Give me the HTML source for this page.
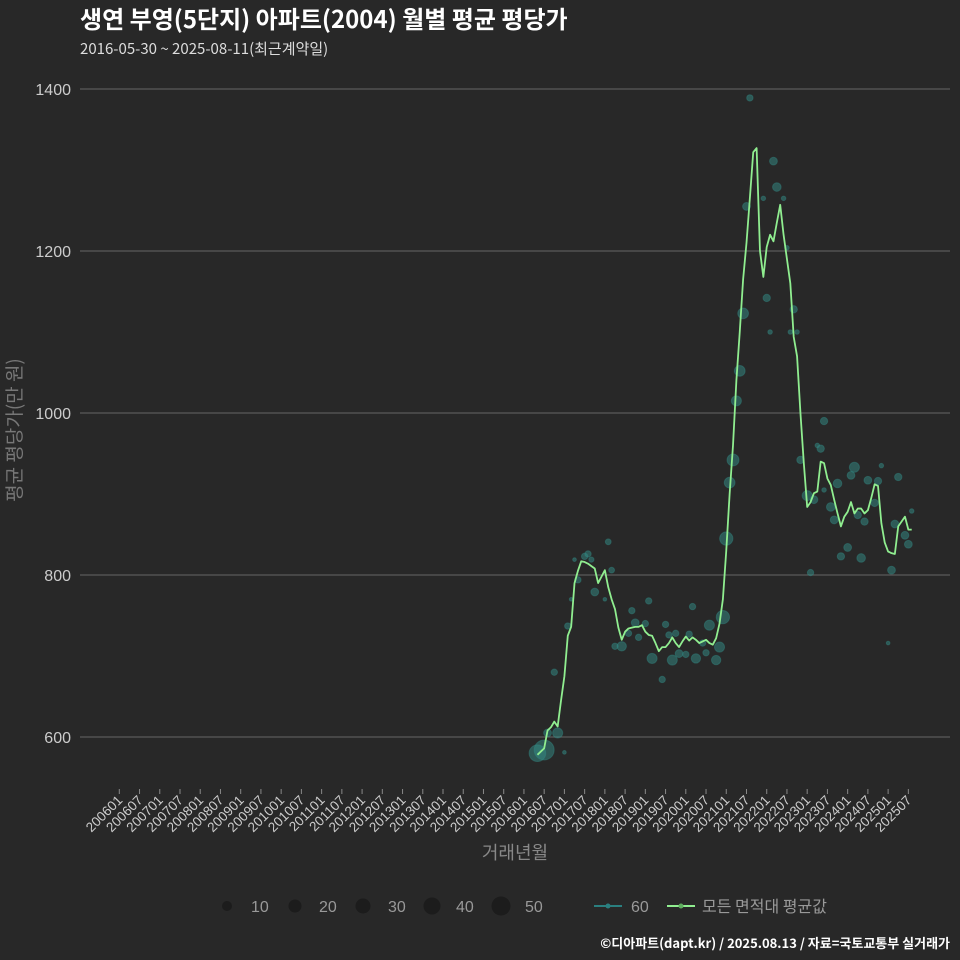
<!DOCTYPE html>
<html><head><meta charset="utf-8"><style>
html,body{margin:0;padding:0;background:#282828;}
svg{display:block;font-family:"Liberation Sans","Noto Sans CJK KR",sans-serif;}
.kr{font-family:"Noto Sans CJK KR","Liberation Sans",sans-serif;}
</style></head><body>
<svg id="chart" width="960" height="960" viewBox="0 0 960 960" xmlns="http://www.w3.org/2000/svg">
<rect width="960" height="960" fill="#282828"/>
<text class="kr" x="80" y="28" fill="#ffffff" font-size="24" font-weight="bold">생연 부영(5단지) 아파트(2004) 월별 평균 평당가</text>
<text class="kr" x="80" y="54" fill="#dddddd" font-size="15">2016-05-30 ~ 2025-08-11(최근계약일)</text>
<g id="grid"></g>
<g id="yaxis"></g>
<g id="xaxis"></g>
<g id="bubbles"></g>
<g id="line"></g>
<text class="kr" transform="translate(21,430) rotate(-90)" text-anchor="middle" fill="#777" font-size="19">평균 평당가(만 원)</text>
<text class="kr" x="515" y="859" text-anchor="middle" fill="#888" font-size="18">거래년월</text>
<g>
<circle cx="227" cy="906" r="5" fill="#1c1c1c"/>
<text x="251" y="912" fill="#999" font-size="16">10</text>
<circle cx="295" cy="906" r="6.5" fill="#1c1c1c"/>
<text x="319" y="912" fill="#999" font-size="16">20</text>
<circle cx="363" cy="906" r="7.5" fill="#1c1c1c"/>
<text x="388" y="912" fill="#999" font-size="16">30</text>
<circle cx="432" cy="906" r="8.5" fill="#1c1c1c"/>
<text x="456" y="912" fill="#999" font-size="16">40</text>
<circle cx="501" cy="906" r="9.5" fill="#1c1c1c"/>
<text x="525" y="912" fill="#999" font-size="16">50</text>
<line x1="594" y1="906" x2="622" y2="906" stroke="#2a7f7f" stroke-width="2"/>
<circle cx="608" cy="906" r="2.5" fill="#2a7f7f"/>
<text x="631" y="912" fill="#999" font-size="16">60</text>
<line x1="667" y1="906" x2="695" y2="906" stroke="#90ee90" stroke-width="2"/>
<circle cx="681" cy="906" r="2.5" fill="#5fae5f"/>
<text class="kr" x="702" y="912" fill="#999" font-size="16">모든 면적대 평균값</text>
</g>
<text class="kr" x="950" y="948" text-anchor="end" fill="#ffffff" font-size="13" font-weight="bold">©디아파트(dapt.kr) / 2025.08.13 / 자료=국토교통부 실거래가</text>
</svg>
<script>
// average line: monthly values starting 2016-05
const lineStart = 124; // months since 2006-01
const lineValues = [578,582,586,608,612,619,613,645,675,725,736,790,805,817,816,814,811,808,790,798,806,785,770,758,735,720,730,734,735,736,736,738,730,726,725,716,706,711,711,716,723,716,711,718,724,719,723,720,716,718,720,716,714,722,740,770,830,900,960,1040,1100,1165,1210,1265,1322,1327,1200,1168,1205,1220,1212,1235,1257,1220,1190,1160,1094,1070,1000,938,884,890,901,903,940,938,919,911,893,876,860,872,878,890,876,882,882,876,880,895,912,910,864,840,829,827,826,860,866,872,856,856];
// bubbles: month offset from 2016-05, value, count
const bubbleMonths = [0,2,6,3,8,5,9,10,12,11,14,15,16,21,22,17,20,23,25,27,28,29,30,32,33,34,37,38,39,40,41,42,44,45,46,47,49,50,51,53,54,55,56,57,58,59,60,61,62,63,67,68,69,70,71,73,74,76,75,77,78,80,82,81,85,83,84,85,87,88,89,90,92,93,94,95,96,97,98,100,101,102,105,106,107,109,110,111,104];
const bubbleValues = [580,584,605,605,581,680,737,770,794,819,823,826,819,841,806,779,770,712,712,728,756,741,723,740,768,697,671,739,726,695,728,703,702,727,761,697,716,704,738,695,711,748,845,914,942,1015,1052,1123,1255,1389,1265,1142,1100,1311,1279,1265,1204,1128,1100,1100,942,898,893,803,990,960,956,905,884,868,913,823,834,923,933,874,821,866,917,889,916,935,806,863,921,849,838,879,716];
const bubbleCounts = [41,59,15,9,2,6,6,2,6,2,6,6,4,5,5,9,2,6,13,6,6,9,6,6,6,15,6,6,6,15,6,9,6,6,6,13,6,6,15,13,15,26,26,17,21,15,17,17,9,6,3,8,3,9,11,3,3,8,3,3,8,15,9,6,8,3,8,3,11,9,11,8,9,9,15,8,11,8,9,8,8,3,9,9,8,9,9,3,2];
const yTicks = [600,800,1000,1200,1400];

const NS = "http://www.w3.org/2000/svg";
function xScale(m){ return 119.3 + m*3.372; }
function yScale(v){ return 737 - (v-600)*0.81; }
function mk(tag, attrs, parent){ const e=document.createElementNS(NS,tag); for(const k in attrs) e.setAttribute(k,attrs[k]); parent.appendChild(e); return e; }

const grid=document.getElementById('grid'), yaxis=document.getElementById('yaxis'), xaxis=document.getElementById('xaxis');
yTicks.forEach(t=>{
  const l=mk('line',{x1:80,x2:950,y1:yScale(t),y2:yScale(t),stroke:'#666','stroke-width':1},grid);
  
  
  const tx=mk('text',{x:71,y:yScale(t)+6,'text-anchor':'end',fill:'#cccccc','font-size':16},yaxis);
  tx.textContent=t;
  
  
});
for(let i=0;i<40;i++){
  const m=i*6, yr=2006+Math.floor(m/12), mo=(m%12)+1;
  const lab=yr+(mo<10?'0':'')+mo;
  const x=xScale(m);
  const tk=mk('line',{x1:x,x2:x,y1:789,y2:794,stroke:'#888','stroke-width':1},xaxis);
  
  
  const tx=mk('text',{transform:'translate('+(x+4)+',801) rotate(-45)','text-anchor':'end',fill:'#cccccc','font-size':13.5},xaxis);
  tx.textContent=lab;
  
  
}
const bg=document.getElementById('bubbles');
bubbleMonths.forEach((k,i)=>{
  const c=mk('circle',{cx:xScale(lineStart+k),cy:yScale(bubbleValues[i]),r:1.3*Math.sqrt(bubbleCounts[i]),fill:'#338c86','fill-opacity':0.5,stroke:'#338c86','stroke-opacity':0.4},bg);
  
  
});
const pts=lineValues.map((v,i)=>xScale(lineStart+i).toFixed(2)+','+yScale(v).toFixed(2)).join(' ');
const pl=mk('polyline',{points:pts,fill:'none',stroke:'#90ee90','stroke-width':1.8,'stroke-linejoin':'round'},document.getElementById('line'));


</script>
</body></html>
